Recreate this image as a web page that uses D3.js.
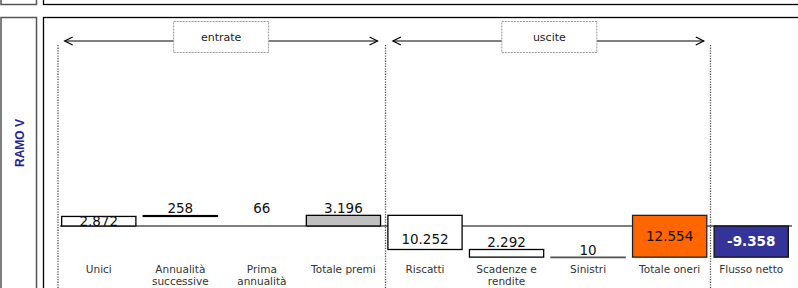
<!DOCTYPE html>
<html>
<head>
<meta charset="utf-8">
<script src="https://cdn.jsdelivr.net/npm/d3@7"></script>
<style>
  body { margin: 0; background: #fff; }
  svg { display: block; font-family: 'DejaVu Sans', Verdana, sans-serif; }
</style>
</head>
<body>
<div id="chart"></div>
<script>
// Data
const categories = ['Unici', 'Annualità successive', 'Prima annualità', 'Totale premi',
  'Riscatti', 'Scadenze e rendite', 'Sinistri', 'Totale oneri', 'Flusso netto'];
const entrate = [2872, 258, 66];
const uscite = [10252, 2292, 10];
const totalePremi = 3196;
const totaleOneri = 12554;
const flussoNetto = -9358;
const labels = ['2.872', '258', '66', '3.196', '10.252', '2.292', '10', '12.554', '-9.358'];
const groups = ['entrate', 'uscite'];

// build waterfall steps
const steps = [];
let acc = 0;
entrate.forEach((v, i) => {
  steps.push({ cat: categories[i], from: acc, to: acc + v, label: labels[i] });
  acc += v;
});
steps.push({ cat: categories[3], from: 0, to: totalePremi, label: labels[3] });
acc = totalePremi;
uscite.forEach((v, i) => {
  steps.push({ cat: categories[4 + i], from: acc, to: acc - v, label: labels[4 + i] });
  acc -= v;
});
steps.push({ cat: categories[7], from: totalePremi, to: totalePremi - totaleOneri, label: labels[7] });
steps.push({ cat: categories[8], from: 0, to: flussoNetto, label: labels[8] });

const styles = {
  'Unici': { fill: '#fff', stroke: '#000', lab: 'in' },
  'Annualità successive': { fill: '#fff', stroke: '#000', lab: 'above' },
  'Prima annualità': { fill: 'none', stroke: 'none', lab: 'above' },
  'Totale premi': { fill: '#c0c0c0', stroke: '#000', lab: 'above' },
  'Riscatti': { fill: '#fff', stroke: '#000', lab: 'low' },
  'Scadenze e rendite': { fill: '#fff', stroke: '#000', lab: 'above' },
  'Sinistri': { fill: '#fff', stroke: '#555', lab: 'above' },
  'Totale oneri': { fill: '#ff6600', stroke: '#222', lab: 'in' },
  'Flusso netto': { fill: '#333399', stroke: '#111', lab: 'in', color: '#fff', bold: true }
};

const W = 798, H = 288;
const svg = d3.select('#chart').append('svg')
  .attr('width', W)
  .attr('height', H);

// frames
svg.append('rect').attr('x', 1).attr('y', -10).attr('width', 35.5).attr('height', 14.5)
  .attr('fill', 'none').attr('stroke', '#555').attr('stroke-width', 1.5);
svg.append('rect').attr('x', 43.5).attr('y', -10).attr('width', 800).attr('height', 14.5)
  .attr('fill', 'none').attr('stroke', '#000').attr('stroke-width', 1.3);
svg.append('rect').attr('x', 1).attr('y', 17.5).attr('width', 35.5).attr('height', 300)
  .attr('fill', 'none').attr('stroke', '#555').attr('stroke-width', 1.5);
svg.append('rect').attr('x', 43.5).attr('y', 17.5).attr('width', 800).attr('height', 300)
  .attr('fill', 'none').attr('stroke', '#000').attr('stroke-width', 1.3);

svg.append('text')
  .attr('transform', 'translate(20,143) rotate(-90)')
  .attr('text-anchor', 'middle')
  .attr('dy', '0.35em')
  .attr('font-family', 'Liberation Sans, Arial, sans-serif')
  .attr('font-weight', 'bold')
  .attr('font-size', '12px')
  .attr('fill', '#22229a')
  .text('RAMO V');

// Scales
const x = d3.scaleBand()
  .domain(categories)
  .range([58, 792])
  .paddingInner(0.09)
  .paddingOuter(0.045);

const y = d3.scaleLinear()
  .domain([-20000, 20000])
  .range([292.6, 159.4]);

// dotted separators
const sepX = [58, 385.5, 710.5];
svg.selectAll('.sep').data(sepX).enter().append('line')
  .attr('class', 'sep')
  .attr('x1', (d) => d).attr('x2', (d) => d)
  .attr('y1', 45).attr('y2', H)
  .attr('stroke', '#555')
  .attr('stroke-width', 1.3)
  .attr('stroke-dasharray', '1.3,1.3');

// group arrows
const arrowY = 41;
const spans = [
  { name: groups[0], x1: x(categories[0]) + 3, x2: x(categories[3]) + x.bandwidth() - 3 },
  { name: groups[1], x1: x(categories[4]) + 5, x2: x(categories[7]) + x.bandwidth() - 3 }
];
spans.forEach((s) => {
  const g = svg.append('g');
  g.append('line')
    .attr('x1', s.x1).attr('x2', s.x2)
    .attr('y1', arrowY).attr('y2', arrowY)
    .attr('stroke', '#000').attr('stroke-width', 1.2);
  g.append('path')
    .attr('d', `M${s.x1 + 8},${arrowY - 4} L${s.x1},${arrowY} L${s.x1 + 8},${arrowY + 4}`)
    .attr('fill', 'none').attr('stroke', '#000').attr('stroke-width', 1.2);
  g.append('path')
    .attr('d', `M${s.x2 - 8},${arrowY - 4} L${s.x2},${arrowY} L${s.x2 - 8},${arrowY + 4}`)
    .attr('fill', 'none').attr('stroke', '#000').attr('stroke-width', 1.2);
  const cx = (s.x1 + s.x2) / 2 + (s.name === 'uscite' ? 1 : 0);
  g.append('rect')
    .attr('x', cx - 47.5).attr('y', 21.5)
    .attr('width', 95).attr('height', 31)
    .attr('fill', '#fff')
    .attr('stroke', '#999')
    .attr('stroke-dasharray', '2,1');
  g.append('text')
    .attr('x', cx).attr('y', 37)
    .attr('dy', '0.35em')
    .attr('text-anchor', 'middle')
    .attr('font-size', '11px')
    .attr('fill', '#222')
    .text(s.name);
});

// baseline
svg.append('line')
  .attr('x1', 60).attr('x2', 792)
  .attr('y1', y(0)).attr('y2', y(0))
  .attr('stroke', '#000').attr('stroke-width', 1.2);

// bars
svg.selectAll('.bar').data(steps).enter().append('rect')
  .attr('class', 'bar')
  .attr('x', (d) => x(d.cat))
  .attr('width', x.bandwidth())
  .attr('y', (d) => y(Math.max(d.from, d.to)))
  .attr('height', (d) => Math.max(0.5, Math.abs(y(d.from) - y(d.to))))
  .attr('fill', (d) => styles[d.cat].fill)
  .attr('stroke', (d) => styles[d.cat].stroke)
  .attr('stroke-width', 1.3);

// value labels
svg.selectAll('.val').data(steps).enter().append('text')
  .attr('class', 'val')
  .attr('x', (d) => x(d.cat) + x.bandwidth() / 2)
  .attr('y', (d) => {
    const top = y(Math.max(d.from, d.to));
    const bottom = y(Math.min(d.from, d.to));
    const mode = styles[d.cat].lab;
    if (mode === 'in') return (top + bottom) / 2;
    if (mode === 'low') return bottom - 10;
    return top - 7;
  })
  .attr('dy', '0.36em')
  .attr('text-anchor', 'middle')
  .attr('font-size', '13.5px')
  .attr('font-weight', (d) => (styles[d.cat].bold ? 'bold' : 'normal'))
  .attr('fill', (d) => styles[d.cat].color || '#111')
  .text((d) => d.label);

// category labels
const catText = svg.selectAll('.cat').data(categories).enter().append('text')
  .attr('class', 'cat')
  .attr('x', (d) => x(d) + x.bandwidth() / 2)
  .attr('y', 269)
  .attr('text-anchor', 'middle')
  .attr('font-size', '10.5px')
  .attr('fill', '#333');

catText.each(function (d) {
  const parts = {
    'Annualità successive': ['Annualità', 'successive'],
    'Prima annualità': ['Prima', 'annualità'],
    'Scadenze e rendite': ['Scadenze e', 'rendite']
  }[d] || [d];
  d3.select(this).selectAll('tspan').data(parts).enter().append('tspan')
    .attr('x', x(d) + x.bandwidth() / 2)
    .attr('dy', (p, i) => (i === 0 ? '0.35em' : '12.5px'))
    .text((p) => p);
});
</script>
</body>
</html>
